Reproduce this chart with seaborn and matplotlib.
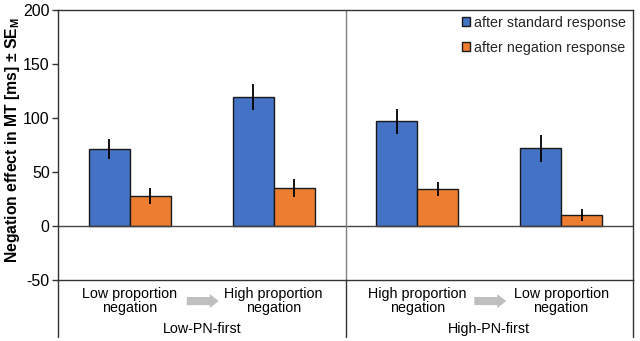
import matplotlib
matplotlib.use("Agg")
import matplotlib.pyplot as plt
import seaborn as sns
import pandas as pd
import numpy as np
from matplotlib.patches import Patch, Polygon
from matplotlib.transforms import blended_transform_factory

# ---- data ----
conditions = ["Low proportion\nnegation", "High proportion\nnegation",
              "High proportion\nnegation ", "Low proportion\nnegation "]
series = ["after standard response", "after negation response"]
standard_vals = [71.5, 119.5, 97.0, 72.0]
standard_err = [9.5, 12.0, 11.5, 12.5]
negation_vals = [28.0, 35.0, 34.0, 10.0]
negation_err = [7.5, 8.5, 6.5, 5.4]
group_labels = ["Low-PN-first", "High-PN-first"]
yticks = [-50, 0, 50, 100, 150, 200]

colors = ["#4472C4", "#ED7D31"]

df = pd.DataFrame({
    "condition": conditions * 2,
    "series": [series[0]] * 4 + [series[1]] * 4,
    "value": standard_vals + negation_vals,
    "err": standard_err + negation_err,
})

sns.set_theme(style="white")
plt.rcParams["font.family"] = ["Liberation Sans", "DejaVu Sans"]
plt.rcParams["mathtext.fontset"] = "custom"
plt.rcParams["mathtext.rm"] = "Liberation Sans"
plt.rcParams["mathtext.bf"] = "Liberation Sans:bold"

fig = plt.figure(figsize=(6.4, 3.41), dpi=100)
W, H = 640, 341
ax = fig.add_axes([58 / W, 1 - 280 / H, (633 - 58) / W, 270 / H])

sns.barplot(data=df, x="condition", y="value", hue="series", order=conditions,
            hue_order=series, palette=colors, width=0.57, errorbar=None,
            edgecolor="#1a1a1a", linewidth=1.0, saturation=1, ax=ax, legend=False)

# error bars
for cont, s in zip(ax.containers, series):
    sub = df[df["series"] == s].set_index("condition").loc[conditions]
    xs = [p.get_x() + p.get_width() / 2 for p in cont.patches]
    ax.errorbar(xs, sub["value"].values, yerr=sub["err"].values, fmt="none",
                ecolor="black", elinewidth=1.3, capsize=0, zorder=5)

ax.set_xlim(-0.5, 3.5)
ax.set_ylim(-50, 200)
ax.set_yticks(yticks)
ax.set_yticklabels([str(t) for t in yticks], fontsize=11.5)
ax.tick_params(axis="y", which="both", left=True, length=4, width=1, color="#333333",
               pad=2, labelcolor="black")
ax.set_xticks([])
ax.set_xlabel("")
ax.set_ylabel(r"Negation effect in MT [ms] ± SE$_\mathbf{M}$", fontsize=11.3,
              fontweight="bold", color="black")
ax.yaxis.set_label_coords(-0.062, 0.52)

for sp in ax.spines.values():
    sp.set_visible(True)
    sp.set_color("#333333")
    sp.set_linewidth(1.0)

ax.axhline(0, color="#444444", linewidth=1.0, zorder=1)
ax.axvline(1.5, color="#808080", linewidth=1.0, zorder=1)

# lower label box
tr = blended_transform_factory(ax.transData, ax.transAxes)
ybot = -57 / 270
ax.plot([0, 0], [0, ybot], transform=ax.transAxes, color="#333333", lw=1.0, clip_on=False)
ax.plot([1, 1], [0, ybot], transform=ax.transAxes, color="#333333", lw=1.0, clip_on=False)
ax.plot([1.5, 1.5], [0, ybot], transform=tr, color="#333333", lw=1.0, clip_on=False)

for i, c in enumerate(conditions):
    ax.text(i, -0.078, c.strip(), transform=tr, ha="center", va="center",
            fontsize=10.3, linespacing=1.0, color="black")
for g, lab in enumerate(group_labels):
    ax.text(0.5 + 2 * g, -0.183, lab, transform=tr, ha="center", va="center",
            fontsize=10.3, color="black")

# gray arrows
for g in range(2):
    x0 = 0.396 + 2 * g
    xb = 0.556 + 2 * g
    xt = 0.618 + 2 * g
    pts = [(x0, -0.063), (xb, -0.063), (xb, -0.052), (xt, -0.078),
           (xb, -0.104), (xb, -0.093), (x0, -0.093)]
    ax.add_patch(Polygon(pts, closed=True, transform=tr, facecolor="#BFBFBF",
                         edgecolor="none", clip_on=False))

handles = [Patch(facecolor=colors[i], edgecolor="#1a1a1a", linewidth=1.0, label=series[i])
           for i in range(2)]
leg = ax.legend(handles=handles, loc="upper right", bbox_to_anchor=(1.0, 1.005),
                frameon=False, fontsize=10.3, handlelength=0.55, handleheight=0.55,
                handletextpad=0.25, labelspacing=0.75, borderaxespad=0.1)

fig.savefig("out.png", dpi=100, facecolor="white")
